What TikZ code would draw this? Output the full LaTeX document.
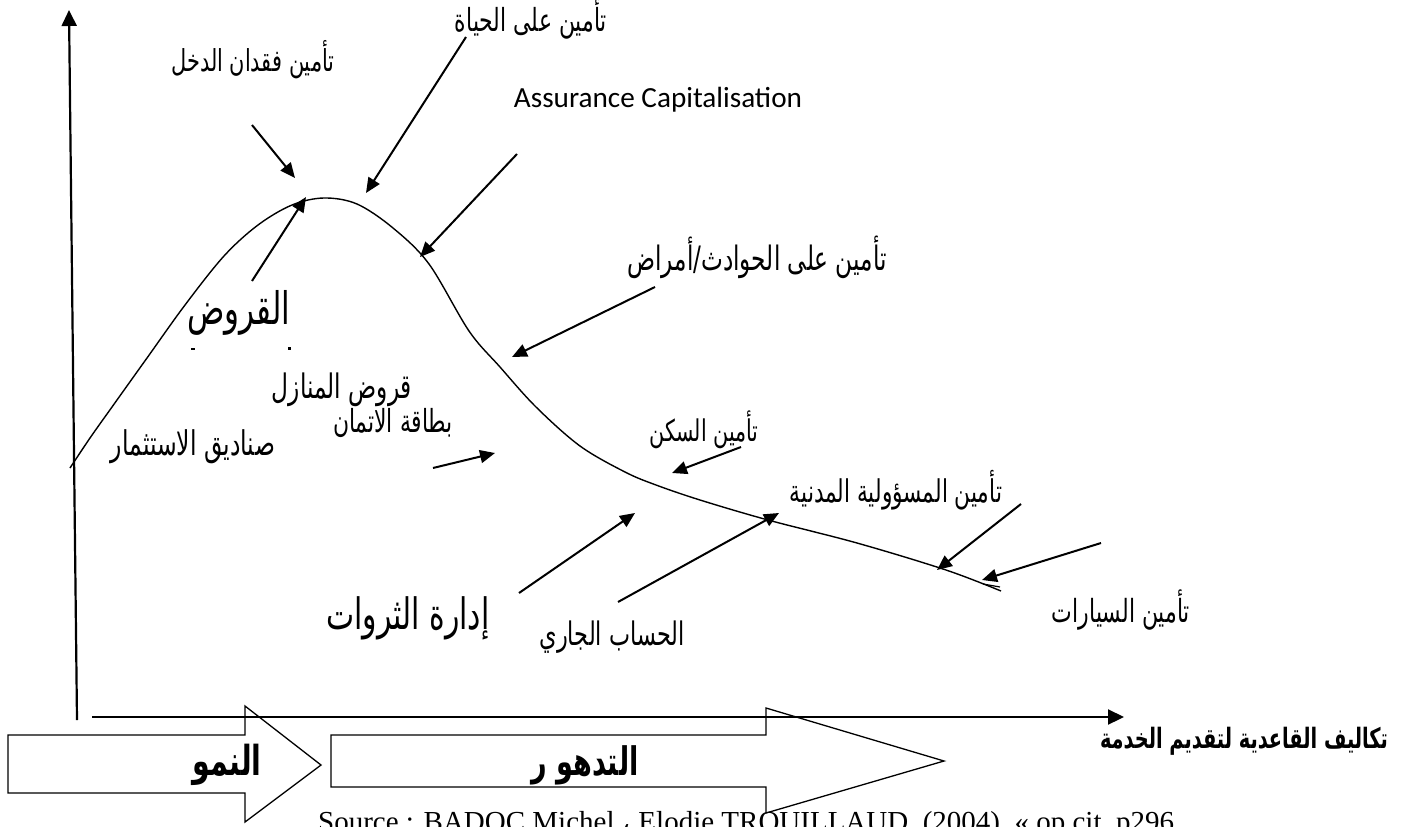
\documentclass[tikz,border=0pt]{standalone}
\usepackage{fontspec}
\usepackage{graphicx}
\usetikzlibrary{arrows.meta}
\setmainfont{Liberation Serif}
\newfontfamily\arabicfont[Script=Arabic]{DejaVu Sans}
\newfontfamily\latinsans{Carlito}
\TeXXeTstate=1
% scale a label to a given width, then stretch it upright
\newcommand\fitbox[2]{\scalebox{1}[1.45]{\resizebox{#1}{!}{#2}}}

\begin{document}
\begin{tikzpicture}[x=1pt,y=-1pt,
  axisline/.style={line width=2.2pt,-{Triangle[length=16pt,width=15pt]}},
  pointer/.style={line width=2pt,-{Triangle[length=15pt,width=13pt]}},
  lifecurve/.style={line width=1.4pt},
  phase/.style={line width=1.3pt,fill=white},
  lbl/.style={inner sep=0pt}]
\useasboundingbox (0,0) rectangle (1403,827);
\clip (0,0) rectangle (1403,827);

% phase arrows along the time axis
\draw[phase] (8,735) -- (245,735) -- (245,706) -- (321,765) -- (245,822)
  -- (245,793) -- (8,793) -- cycle;
\draw[phase] (331,735) -- (766,735) -- (766,708) -- (944,761) -- (766,813)
  -- (766,787) -- (331,787) -- cycle;
\node[lbl] (growth) at (227,765) {\fitbox{69pt}{\arabicfont\bfseries\beginR النمو\endR}};
\node[lbl] (decline) at (585,765) {\fitbox{107pt}{\arabicfont\bfseries\beginR التدهو ر\endR}};

% axes
\coordinate (ybot) at (77,720);
\coordinate (ytop) at (69,10);
\coordinate (xleft) at (92,717);
\coordinate (xright) at (1124,717);
\draw[axisline] (ybot) -- (ytop);
\draw[axisline] (xleft) -- (xright);
\node[lbl] (xlabel) at (1244,741) {\fitbox{288pt}{\arabicfont\bfseries\beginR تكاليف القاعدية لتقديم الخدمة\endR}};

% life-cycle curve
\draw[lifecurve] plot[smooth,tension=0.55] coordinates {
  (70,468) (90,438) (112,407) (147,358) (185,305) (224,256) (258,225)
  (292,205) (324,198) (357,204) (393,228) (429,264) (469,331) (500,367)
  (536,407) (580,446) (625,472) (656,485) (700,500) (768,520) (857,543)
  (946,570) (1001,591)};
\draw[line width=1.2pt] (983,584) -- (1000,587);

% product labels
\node[lbl] (life) at (531,19) {\fitbox{152pt}{\arabicfont\beginR تأمين على الحياة\endR}};
\node[lbl] (income) at (253,60) {\fitbox{163pt}{\arabicfont\beginR تأمين فقدان الدخل\endR}};
\node[lbl] (capital) at (658,100) {\resizebox{288pt}{!}{\latinsans Assurance Capitalisation}};
\node[lbl] (accident) at (757,257) {\fitbox{259pt}{\arabicfont\beginR تأمين على الحوادث/أمراض\endR}};
\node[lbl] (loans) at (239,313) {\fitbox{103pt}{\arabicfont\beginR القروض\endR}};
\node[lbl] (mortgage) at (342,390) {\fitbox{140pt}{\arabicfont\beginR قروض المنازل\endR}};
\node[lbl] (card) at (393,423) {\fitbox{120pt}{\arabicfont\beginR بطاقة الاتمان\endR}};
\node[lbl] (funds) at (193,447) {\fitbox{164pt}{\arabicfont\beginR صناديق الاستثمار\endR}};
\node[lbl] (home) at (704,430) {\fitbox{109pt}{\arabicfont\beginR تأمين السكن\endR}};
\node[lbl] (liability) at (896,490) {\fitbox{212pt}{\arabicfont\beginR تأمين المسؤولية المدنية\endR}};
\node[lbl] (cars) at (1121,610) {\fitbox{138pt}{\arabicfont\beginR تأمين السيارات\endR}};
\node[lbl] (current) at (612,637) {\fitbox{145pt}{\arabicfont\beginR الحساب الجاري\endR}};
\node[lbl] (wealth) at (408,618) {\fitbox{163pt}{\arabicfont\beginR إدارة الثروات\endR}};

% small marks under the loans label
\fill (191,348) rectangle (195,350);
\fill (288,347) rectangle (291,350);

% pointers onto the curve
\coordinate (a1s) at (252,125);  \coordinate (a1e) at (295,178);
\coordinate (a2s) at (466,37);   \coordinate (a2e) at (366,193);
\coordinate (a3s) at (517,154);  \coordinate (a3e) at (420,257);
\coordinate (a4s) at (252,281);  \coordinate (a4e) at (306,197);
\coordinate (a5s) at (655,287);  \coordinate (a5e) at (512,357);
\coordinate (a6s) at (433,468);  \coordinate (a6e) at (495,453);
\coordinate (a7s) at (741,447);  \coordinate (a7e) at (672,473);
\coordinate (a8s) at (519,593);  \coordinate (a8e) at (635,513);
\coordinate (a9s) at (618,602);  \coordinate (a9e) at (779,513);
\coordinate (a10s) at (1021,504); \coordinate (a10e) at (937,570);
\coordinate (a11s) at (1101,543); \coordinate (a11e) at (982,580);
\foreach \i in {1,...,11} \draw[pointer] (a\i s) -- (a\i e);

% source line, cut by the lower edge
\node[lbl,anchor=base west] (source) at (318,831)
  {\fontsize{29}{33}\selectfont Source : BADOC Michel {\arabicfont ،} Elodie TROUILLAUD, (2004), « op.cit, p296};
\end{tikzpicture}
\end{document}
